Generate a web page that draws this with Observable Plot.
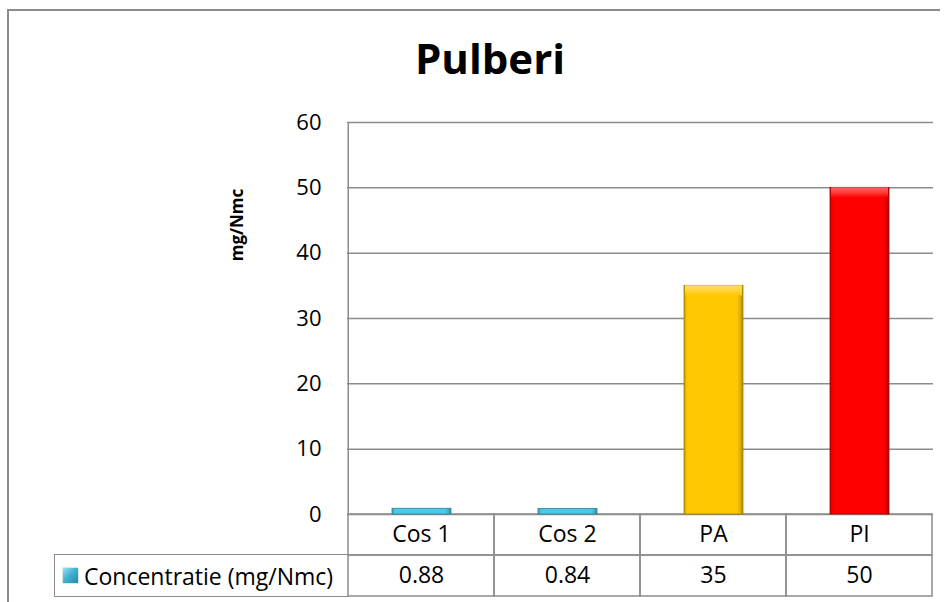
<!DOCTYPE html>
<html>
<head>
<meta charset="utf-8">
<script src="https://cdn.jsdelivr.net/npm/d3@7"></script>
<script src="https://cdn.jsdelivr.net/npm/@observablehq/plot@0.6"></script>
<style>
html, body { margin: 0; padding: 0; background: #fff; overflow: hidden; width: 949px; height: 602px; }
#wrap { position: relative; width: 949px; height: 602px; overflow: hidden; font-family: "Open Sans", sans-serif; color: #000; }
#borderTop { position: absolute; left: 7px; top: 9px; width: 933px; height: 2px; background: #8c8c8c; }
#borderLeft { position: absolute; left: 7px; top: 9px; width: 2px; height: 593px; background: #8c8c8c; }
#title { position: absolute; left: 0; width: 980px; top: 30px; text-align: center; font-weight: 700; font-size: 42px; line-height: 56px; }
#ylabel { position: absolute; left: 236px; top: 225px; transform: translate(-50%, -50%) rotate(-90deg); font-weight: 700; font-size: 17px; white-space: nowrap; }
#chart { position: absolute; left: 0; top: 0; }
#legend { position: absolute; left: 54px; top: 554px; width: 294px; height: 43px; border: 1.5px solid #8c8c8c; border-right: none; box-sizing: border-box; display: flex; align-items: center; font-size: 23px; white-space: nowrap; }
#legend .key { width: 15px; height: 15px; margin-left: 8px; margin-right: 6px; background: linear-gradient(135deg, #9ee2f3 0%, #41b2d3 45%, #2b86a3 100%); box-shadow: 0 0 1px #1f6b82; }
g[aria-label="data-bars"] { filter: drop-shadow(1px 1px 2px rgba(0,0,0,0.35)); }
#defs { position: absolute; left: 0; top: 0; width: 0; height: 0; }
</style>
</head>
<body>
<svg id="defs" width="0" height="0"><defs></defs></svg>
<div id="wrap">
  <div id="borderTop"></div>
  <div id="borderLeft"></div>
  <div id="chart"></div>
  <div id="title">Pulberi</div>
  <div id="ylabel">mg/Nmc</div>
  <div id="legend"><span class="key"></span><span id="legtext"></span></div>
</div>
<script>
// ---- data ----
const categories = ["Cos 1", "Cos 2", "PA", "PI"];
const values = [0.88, 0.84, 35, 50];
const valueLabels = ["0.88", "0.84", "35", "50"];
const barColors = ["#4cc8ea", "#4cc8ea", "#ffc800", "#ff0000"];
const yTicks = [0, 10, 20, 30, 40, 50, 60];
const seriesName = "Concentratie (mg/Nmc)";

document.getElementById("legtext").textContent = seriesName;

// ---- gradients for the bevelled bars ----
const defs = d3.select("#defs defs");
barColors.forEach((c, i) => {
  const light = d3.interpolateRgb(c, "#fff");
  const dark = d3.interpolateRgb(c, "#000");
  const g = defs.append("linearGradient").attr("id", "g" + i)
    .attr("x1", 0).attr("x2", 1).attr("y1", 0).attr("y2", 0);
  [[0, dark(0.25)], [0.05, c], [0.9, c], [0.96, dark(0.15)], [1, dark(0.35)]]
    .forEach(([o, col]) => g.append("stop").attr("offset", o).attr("stop-color", col));
  const t = defs.append("linearGradient").attr("id", "t" + i)
    .attr("x1", 0).attr("x2", 0).attr("y1", 0).attr("y2", 1);
  [[0, light(0.4)], [0.55, light(0.22)], [1, c]]
    .forEach(([o, col]) => t.append("stop").attr("offset", o).attr("stop-color", col));
});

const data = categories.map((cat, i) => ({
  cat, value: values[i], label: valueLabels[i],
  grad: `url(#g${i})`, top: `url(#t${i})`,
  edge: d3.interpolateRgb(barColors[i], "#000")(0.35)
}));

// ---- layout ----
const W = 949, H = 602;
const mL = 347, mR = 16, mT = 122, mB = 88;
const bw = (W - mL - mR) / categories.length;
const rowH = 41;
const grid = "#8c8c8c";

const chart = Plot.plot({
  width: W, height: H,
  marginLeft: mL, marginRight: mR, marginTop: mT, marginBottom: mB,
  style: { fontFamily: "'Open Sans', sans-serif", fontSize: "22px", color: "#000", background: "transparent", overflow: "visible" },
  x: { domain: categories, padding: 0, axis: null },
  y: { domain: [yTicks[0], yTicks[yTicks.length - 1]], ticks: yTicks, tickSize: 0, tickPadding: 26, label: null, tickFormat: d => String(d) },
  color: { type: "identity" },
  marks: [
    Plot.ruleY(yTicks, { stroke: grid, strokeWidth: 1.5 }),
    Plot.ruleX([categories[0]], { dx: -bw / 2, y1: yTicks[0], y2: yTicks[yTicks.length - 1], stroke: grid, strokeWidth: 1.5 }),
    // data table cells (two rows under the axis)
    Plot.barY(categories, { x: d => d, y1: 0, y2: 0, insetBottom: -rowH, fill: "none", stroke: grid, strokeWidth: 1.5 }),
    Plot.barY(categories, { x: d => d, y1: 0, y2: 0, insetTop: rowH, insetBottom: -2 * rowH, fill: "none", stroke: grid, strokeWidth: 1.5 }),
    Plot.text(categories, { x: d => d, frameAnchor: "bottom", lineAnchor: "middle", dy: rowH / 2, fill: "#000", fontSize: 23 }),
    Plot.text(data, { x: "cat", text: "label", frameAnchor: "bottom", lineAnchor: "middle", dy: rowH * 1.5, fill: "#000", fontSize: 23 }),
    // bars
    Plot.barY(data, { x: "cat", y1: 0, y2: "value", fill: "grad", stroke: "edge", strokeWidth: 0.8, insetLeft: 44, insetRight: 43, ariaLabel: "data-bars" }),
    Plot.barY(data.filter(d => d.value > 5), { x: "cat", y1: "value", y2: "value", insetBottom: -10, insetLeft: 45, insetRight: 44, fill: "top" })
  ]
});
document.getElementById("chart").appendChild(chart);
</script>
</body>
</html>
